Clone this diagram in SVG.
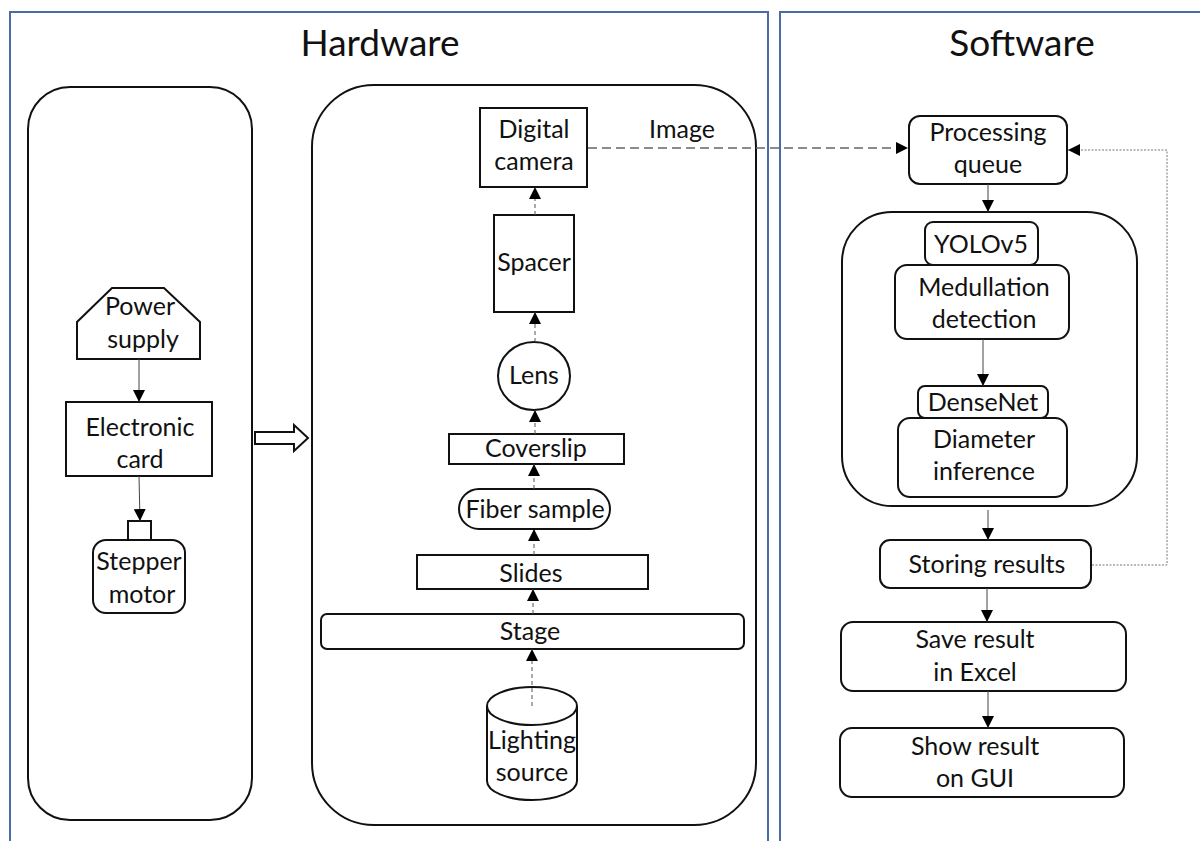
<svg xmlns="http://www.w3.org/2000/svg" width="1200" height="841" viewBox="0 0 1200 841">
  <style>
    text { font-family: Lato, "Liberation Sans", Arial, sans-serif; font-size: 25px; fill: #111; text-anchor: middle; }
    .title { font-size: 37px; }
    .panel { fill: none; stroke: #4a6aa8; stroke-width: 2; }
    .box { fill: #fff; stroke: #111; stroke-width: 2; }
    .group { fill: none; stroke: #111; stroke-width: 2; }
    .solid { fill: none; stroke: #444; stroke-width: 1; marker-end: url(#head); }
    .dash { fill: none; stroke: #555; stroke-width: 1; stroke-dasharray: 4 3; marker-end: url(#head); }
    .image { fill: none; stroke: #666; stroke-width: 1.3; stroke-dasharray: 9 5; marker-end: url(#head); }
    .dot { fill: none; stroke: #777; stroke-width: 1; stroke-dasharray: 2 1.5; marker-end: url(#head); }
  </style>
  <defs>
    <marker id="head" viewBox="0 0 10 10" refX="10" refY="5" markerWidth="12" markerHeight="12" markerUnits="userSpaceOnUse" orient="auto">
      <path d="M0,0 L10,5 L0,10 Z" fill="#000"/>
    </marker>
  </defs>

  <rect width="1200" height="841" fill="#fff"/>

  <!-- outer panels -->
  <g id="hardware-panel">
    <rect class="panel" x="10" y="12" width="758" height="860"/>
    <text class="title" x="380" y="56">Hardware</text>
  </g>
  <g id="software-panel">
    <rect class="panel" x="780" y="12" width="440" height="860"/>
    <text class="title" x="1022" y="56">Software</text>
  </g>

  <!-- hardware groupings -->
  <rect id="control-group" class="group" x="28" y="87" width="224" height="733" rx="42"/>
  <rect id="optics-group" class="group" x="312" y="85" width="444" height="740" rx="62"/>

  <!-- control chain -->
  <g id="power-supply">
    <path class="box" d="M112,288 L164,288 L200,322 L200,359 L77,359 L77,322 Z"/>
    <text x="140" y="315">Power</text>
    <text x="143" y="348">supply</text>
  </g>
  <g id="electronic-card">
    <rect class="box" x="66" y="402" width="146" height="74"/>
    <text x="140" y="436">Electronic</text>
    <text x="140" y="468">card</text>
  </g>
  <g id="stepper-motor">
    <rect class="box" x="128" y="521" width="23" height="19"/>
    <rect class="box" x="93" y="540" width="92" height="73" rx="13"/>
    <text x="139" y="570">Stepper</text>
    <text x="142" y="603">motor</text>
  </g>

  <!-- hollow arrow between hardware groups -->
  <g id="drive-arrow">
    <path d="M255,432 L294,432 L294,425 L308,438 L294,451 L294,444 L255,444 Z" fill="#fff" stroke="#111" stroke-width="2"/>
  </g>

  <!-- optical chain -->
  <g id="digital-camera">
    <rect class="box" x="480" y="108" width="107" height="79"/>
    <text x="534" y="138">Digital</text>
    <text x="534" y="170">camera</text>
  </g>
  <g id="spacer">
    <rect class="box" x="494" y="215" width="80" height="97"/>
    <text x="534" y="271">Spacer</text>
  </g>
  <g id="lens">
    <ellipse class="box" cx="534" cy="376" rx="36" ry="34"/>
    <text x="534" y="384">Lens</text>
  </g>
  <g id="coverslip">
    <rect class="box" x="449" y="434" width="175" height="30"/>
    <text x="536" y="457">Coverslip</text>
  </g>
  <g id="fiber-sample">
    <rect class="box" x="459" y="489" width="151" height="40" rx="20"/>
    <text x="535" y="518">Fiber sample</text>
  </g>
  <g id="slides">
    <rect class="box" x="417" y="555" width="231" height="34"/>
    <text x="531" y="582">Slides</text>
  </g>
  <g id="stage">
    <rect class="box" x="321" y="614" width="423" height="35" rx="6"/>
    <text x="530" y="640">Stage</text>
  </g>
  <g id="lighting-source">
    <path class="box" d="M487,706 L487,781 A45,19 0 0 0 577,781 L577,706"/>
    <ellipse class="box" cx="532" cy="706" rx="45" ry="19"/>
    <text x="532" y="749">Lighting</text>
    <text x="532" y="781">source</text>
  </g>

  <!-- software chain -->
  <g id="processing-queue">
    <rect class="box" x="909" y="116" width="158" height="68" rx="11"/>
    <text x="988" y="141">Processing</text>
    <text x="988" y="173">queue</text>
  </g>
  <rect id="model-group" class="group" x="842" y="212" width="295" height="294" rx="50"/>
  <g id="yolov5">
    <rect class="box" x="925" y="222" width="113" height="43" rx="8"/>
    <text x="981" y="253">YOLOv5</text>
  </g>
  <g id="medullation-detection">
    <rect class="box" x="895" y="265" width="174" height="74" rx="12"/>
    <text x="984" y="296">Medullation</text>
    <text x="984" y="328">detection</text>
  </g>
  <g id="densenet">
    <rect class="box" x="918" y="386" width="130" height="32" rx="7"/>
    <text x="983" y="411">DenseNet</text>
  </g>
  <g id="diameter-inference">
    <rect class="box" x="898" y="418" width="169" height="79" rx="12"/>
    <text x="984" y="448">Diameter</text>
    <text x="984" y="480">inference</text>
  </g>
  <g id="storing-results">
    <rect class="box" x="880" y="540" width="211" height="48" rx="10"/>
    <text x="987" y="573">Storing results</text>
  </g>
  <g id="save-excel">
    <rect class="box" x="841" y="622" width="285" height="69" rx="12"/>
    <text x="975" y="648">Save result</text>
    <text x="975" y="681">in Excel</text>
  </g>
  <g id="show-gui">
    <rect class="box" x="840" y="728" width="284" height="69" rx="12"/>
    <text x="975" y="755">Show result</text>
    <text x="975" y="787">on GUI</text>
  </g>

  <!-- connectors -->
  <g id="connectors">
    <line class="solid" x1="139" y1="359" x2="139" y2="402"/>
    <line class="solid" x1="139" y1="476" x2="140" y2="521"/>

    <line class="dash" x1="532" y1="706" x2="532" y2="649"/>
    <line class="dash" x1="533" y1="614" x2="533" y2="589"/>
    <line class="dash" x1="534" y1="555" x2="534" y2="529"/>
    <line class="dash" x1="534" y1="489" x2="534" y2="464"/>
    <line class="dash" x1="535" y1="434" x2="535" y2="410"/>
    <line class="dash" x1="535" y1="342" x2="535" y2="312"/>
    <line class="dash" x1="535" y1="215" x2="535" y2="187"/>

    <line class="image" x1="588" y1="148" x2="908" y2="148"/>
    <text x="682" y="138">Image</text>

    <line class="solid" x1="988" y1="184" x2="988" y2="212"/>
    <line class="solid" x1="983" y1="339" x2="983" y2="386"/>
    <line class="solid" x1="988" y1="510" x2="988" y2="540"/>
    <line class="solid" x1="987" y1="588" x2="987" y2="622"/>
    <line class="solid" x1="988" y1="691" x2="988" y2="728"/>
    <polyline class="dot" points="1092,565 1167,565 1167,150 1068,150"/>
  </g>
</svg>
